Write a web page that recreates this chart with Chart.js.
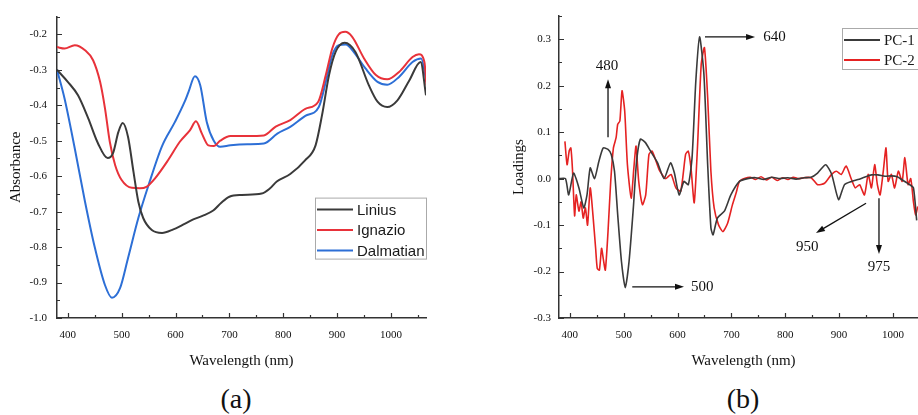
<!DOCTYPE html>
<html>
<head>
<meta charset="utf-8">
<script src="https://cdn.jsdelivr.net/npm/chart.js@4"></script>
<style>
html, body { margin: 0; padding: 0; background: #fff; }
body { width: 918px; height: 415px; overflow: hidden; position: relative; }
.wrap { position: absolute; top: 0; }
.cap { position: absolute; top: 383px; font-family: 'Liberation Serif', serif; font-size: 28px; color: #111; transform: translateX(-50%); }
</style>
</head>
<body>
<div class="wrap" style="left:0"><canvas id="chartA" width="440" height="372"></canvas></div>
<div class="wrap" style="left:495px"><canvas id="chartB" width="450" height="372"></canvas></div>
<div class="cap" style="left:236px">(a)</div>
<div class="cap" style="left:743px">(b)</div>
<script>
// (a) absorbance spectra
const wlLinius = [380,400,419,438,456,474,484,494,502,512,522,531,540,556,575,596,610,633,650,670,685,700,723,760,775,788,813,840,860,872,885,897,914,934,959,975,993,1012,1034,1055,1065]
const absLinius = [-0.30,-0.334,-0.372,-0.437,-0.507,-0.549,-0.535,-0.475,-0.45,-0.49,-0.588,-0.672,-0.718,-0.752,-0.76,-0.75,-0.74,-0.722,-0.712,-0.697,-0.675,-0.658,-0.653,-0.649,-0.635,-0.615,-0.594,-0.556,-0.513,-0.428,-0.315,-0.25,-0.224,-0.25,-0.344,-0.39,-0.405,-0.386,-0.33,-0.278,-0.372]

const wlIgnazio = [380,394,413,432,447,460,469,478,488,500,519,534,546,562,587,608,627,638,649,661,671,683,702,733,764,786,813,841,865,879,891,903,915,928,950,972,993,1015,1040,1052,1062,1066]
const absIgnazio = [-0.236,-0.24,-0.231,-0.245,-0.273,-0.334,-0.408,-0.503,-0.569,-0.611,-0.633,-0.634,-0.63,-0.606,-0.553,-0.503,-0.47,-0.445,-0.48,-0.513,-0.515,-0.50,-0.487,-0.487,-0.485,-0.46,-0.442,-0.41,-0.39,-0.315,-0.24,-0.20,-0.193,-0.207,-0.268,-0.315,-0.327,-0.306,-0.264,-0.256,-0.278,-0.344]

const wlDalmatian = [380,394,413,432,450,469,482,497,512,531,550,575,599,617,624,636,646,658,671,683,702,733,764,789,813,841,866,879,891,903,916,931,953,975,993,1015,1040,1056,1066]
const absDalmatian = [-0.30,-0.381,-0.522,-0.672,-0.80,-0.907,-0.943,-0.916,-0.83,-0.718,-0.625,-0.515,-0.447,-0.39,-0.363,-0.318,-0.344,-0.447,-0.50,-0.517,-0.513,-0.51,-0.508,-0.48,-0.461,-0.43,-0.405,-0.334,-0.259,-0.231,-0.229,-0.25,-0.297,-0.334,-0.342,-0.32,-0.278,-0.268,-0.334]

// (b) PCA loadings
const wlPC1 = [380,392,398,407,417,426,432,438,446,454,462,471,477,483,489,496,503,510,518,524,531,540,550,563,575,587,594,603,612,620,627,634,641,649,656,662,666,674,687,699,715,730,745,760,775,790,805,820,835,848,860,875,886,899,910,923,935,947,960,972,985,997,1008,1016,1031,1038,1044]
const ldPC1 = [0.0,0.0,-0.035,0.012,-0.02,-0.063,-0.035,0.023,0.0,0.037,0.066,0.063,0.052,0.016,-0.078,-0.179,-0.235,-0.179,-0.063,0.037,0.085,0.078,0.059,0.034,0.0,0.034,0.013,-0.035,-0.006,-0.013,0.045,0.21,0.305,0.225,0.03,-0.106,-0.121,-0.085,-0.07,-0.035,-0.006,0.0,0.002,-0.002,0.003,0.0,0.002,-0.001,0.002,0.003,0.012,0.03,0.01,-0.045,-0.013,-0.006,-0.002,0.003,0.008,0.008,0.005,0.006,0.004,-0.002,-0.013,-0.02,-0.09]

const wlPC2 = [391,395,399,402,405,409,412,417,421,425,429,433,438,443,448,451,455,459,462,466,471,476,481,486,489,493,497,502,507,514,519,523,528,535,541,547,553,566,578,588,597,606,615,620,625,631,637,644,650,656,662,668,676,684,693,702,709,715,724,735,745,755,765,775,785,795,805,815,825,835,848,860,873,886,895,904,913,923,930,938,947,954,960,966,971,976,982,987,991,997,1003,1010,1017,1022,1028,1033,1038,1042,1046]
const ldPC2 = [0.08,0.03,0.06,0.066,0.02,-0.08,-0.035,-0.07,-0.05,-0.085,-0.063,-0.1,-0.02,-0.078,-0.15,-0.193,-0.197,-0.15,-0.171,-0.197,-0.114,-0.006,0.066,0.088,0.117,0.124,0.189,0.145,0.03,-0.042,0.023,0.07,-0.006,-0.056,-0.035,0.052,0.059,0.019,0.0,0.009,-0.02,-0.027,0.052,0.059,0.023,-0.052,0.066,0.246,0.282,0.174,0.016,-0.063,-0.099,-0.114,-0.096,-0.056,-0.03,-0.006,0.0,0.003,-0.002,0.004,-0.003,0.003,-0.004,0.002,-0.002,0.003,0.0,0.002,0.002,-0.013,-0.01,0.009,0.016,0.009,0.027,-0.002,-0.02,-0.013,-0.035,0.009,-0.02,0.03,-0.013,-0.035,0.016,0.066,-0.006,0.009,-0.02,0.016,-0.006,0.045,-0.013,0.0,-0.05,-0.078,-0.06]

// ticks
const xTicks = [400,500,600,700,800,900,1000]
const yTicksA = [-1.0,-0.9,-0.8,-0.7,-0.6,-0.5,-0.4,-0.3,-0.2]
const yTicksB = [-0.3,-0.2,-0.1,0.0,0.1,0.2,0.3]

// peak labels in (b): text, text pos, arrow from, arrow to (wavelength, loading)
const peakNotes = [
  {text: '480', at: [469, 0.242], from: [471, 0.089], to: [471, 0.214]},
  {text: '640', at: [780, 0.305], from: [651, 0.305], to: [744, 0.305]},
  {text: '500', at: [646, -0.233], from: [516, -0.233], to: [612, -0.233]},
  {text: '950', at: [841, -0.147], from: [950, -0.053], to: [857, -0.117]},
  {text: '975', at: [974, -0.19], from: [974, -0.042], to: [974, -0.162]}
]

const serif = "'Liberation Serif', 'Times New Roman', serif"
const sans = "'Liberation Sans', Arial, sans-serif"

const pts = (xs, ys) => xs.map((x, i) => ({x: x, y: ys[i]}))

// inward major + minor tick marks on the bottom and left axes
const inwardTicks = {
  id: 'inwardTicks',
  afterDraw(chart, args, opts) {
    const {ctx, chartArea: a, scales: {x, y}} = chart
    ctx.save()
    ctx.strokeStyle = '#333'
    ctx.lineWidth = 1.2
    ctx.beginPath()
    for (let k = Math.ceil(x.min / 50); k * 50 <= x.max; k++) {
      const p = Math.round(x.getPixelForValue(k * 50)) + 0.5
      const len = k % 2 === 0 ? 5 : 3
      ctx.moveTo(p, a.bottom); ctx.lineTo(p, a.bottom - len)
    }
    for (let k = Math.ceil(y.min / 0.05 - 1e-6); k * 0.05 <= y.max + 1e-6; k++) {
      const p = Math.round(y.getPixelForValue(k * 0.05)) + 0.5
      const len = k % 2 === 0 ? 5 : 3
      ctx.moveTo(a.left, p); ctx.lineTo(a.left + len, p)
    }
    ctx.stroke()
    ctx.restore()
  }
}

// framed legend inside the plot
const boxLegend = {
  id: 'boxLegend',
  afterDraw(chart, args, o) {
    const {ctx, chartArea: a} = chart
    const left = a.left + o.dx, top = a.top + o.dy
    ctx.save()
    ctx.fillStyle = '#fff'
    ctx.fillRect(left, top, o.w, o.h)
    ctx.strokeStyle = '#aaa'
    ctx.lineWidth = 1
    ctx.strokeRect(left + 0.5, top + 0.5, o.w, o.h)
    ctx.font = o.font
    ctx.textBaseline = 'middle'
    chart.data.datasets.forEach((ds, i) => {
      const yy = top + o.first + i * o.row
      ctx.strokeStyle = ds.borderColor
      ctx.lineWidth = 2
      ctx.beginPath()
      ctx.moveTo(left + 2, yy); ctx.lineTo(left + 2 + o.sample, yy)
      ctx.stroke()
      ctx.fillStyle = '#1a1a1a'
      ctx.fillText(ds.label, left + o.sample + 6, yy + 1)
    })
    ctx.restore()
  }
}

// arrows with peak wavelengths
const peakArrows = {
  id: 'peakArrows',
  afterDraw(chart, args, o) {
    if (!o.notes) return
    const {ctx, scales: {x, y}} = chart
    ctx.save()
    ctx.strokeStyle = '#111'
    ctx.fillStyle = '#111'
    ctx.lineWidth = 1.3
    ctx.font = '15px ' + serif
    ctx.textAlign = 'center'
    ctx.textBaseline = 'middle'
    o.notes.forEach(n => {
      const x0 = x.getPixelForValue(n.from[0]), y0 = y.getPixelForValue(n.from[1])
      const x1 = x.getPixelForValue(n.to[0]), y1 = y.getPixelForValue(n.to[1])
      const ang = Math.atan2(y1 - y0, x1 - x0)
      ctx.beginPath()
      ctx.moveTo(x0, y0)
      ctx.lineTo(x1 - 6 * Math.cos(ang), y1 - 6 * Math.sin(ang))
      ctx.stroke()
      ctx.beginPath()
      ctx.moveTo(x1, y1)
      ctx.lineTo(x1 - 9 * Math.cos(ang) + 3 * Math.sin(ang), y1 - 9 * Math.sin(ang) - 3 * Math.cos(ang))
      ctx.lineTo(x1 - 9 * Math.cos(ang) - 3 * Math.sin(ang), y1 - 9 * Math.sin(ang) + 3 * Math.cos(ang))
      ctx.closePath()
      ctx.fill()
      ctx.fillText(n.text, x.getPixelForValue(n.at[0]), y.getPixelForValue(n.at[1]))
    })
    ctx.restore()
  }
}

function axes(p) {
  return {
    x: {
      type: 'linear', min: 380, max: 1065,
      afterBuildTicks: s => { s.ticks = xTicks.map(v => ({value: v})) },
      afterFit: s => { s.height = p.xh },
      grid: {display: false, drawTicks: false},
      border: {display: true, color: '#333', width: 1.5},
      ticks: {font: {family: serif, size: 11}, color: '#111', padding: 11, maxRotation: 0, autoSkip: false, callback: v => String(v)},
      title: {display: true, text: 'Wavelength (nm)', font: {family: serif, size: 15}, color: '#111', padding: {top: 0, bottom: 2}}
    },
    y: {
      type: 'linear', min: p.ymin, max: p.ymax,
      afterBuildTicks: s => { s.ticks = p.yticks.map(v => ({value: v})) },
      afterFit: s => { s.width = p.yw },
      grid: {display: false, drawTicks: false},
      border: {display: true, color: '#333', width: 1.5},
      ticks: {font: {family: serif, size: 11}, color: '#111', padding: p.ypad, autoSkip: false, callback: v => (Math.abs(v) < 1e-9 ? 0 : v).toFixed(1)},
      title: {display: true, text: p.ytitle, font: {family: serif, size: 15}, color: '#111', padding: {top: p.ytp, bottom: 0}}
    }
  }
}

function line(label, xs, ys, color, w, smooth) {
  return {
    label: label,
    data: pts(xs, ys),
    borderColor: color,
    borderWidth: w,
    pointRadius: 0,
    fill: false,
    tension: smooth ? 0 : 0.2,
    cubicInterpolationMode: smooth ? 'monotone' : 'default'
  }
}

const chartA = new Chart(document.getElementById('chartA'), {
  type: 'line',
  data: {
    datasets: [
      line('Linius', wlLinius, absLinius, '#3a3a3a', 2, true),
      line('Ignazio', wlIgnazio, absIgnazio, '#e8323a', 2, true),
      line('Dalmatian', wlDalmatian, absDalmatian, '#2d6fd6', 2, true)
    ]
  },
  options: {
    responsive: false,
    animation: false,
    layout: {padding: {top: 16, right: 14, left: 0, bottom: 0}},
    plugins: {
      legend: {display: false},
      tooltip: {enabled: false},
      boxLegend: {dx: 258, dy: 181, w: 111, h: 61, first: 12, row: 20.5, sample: 36, font: '15px ' + sans}
    },
    scales: axes({xh: 54, yw: 57, ymin: -1.0, ymax: -0.15, yticks: yTicksA, ypad: 10, ytitle: 'Absorbance', ytp: 7})
  },
  plugins: [inwardTicks, boxLegend, peakArrows]
})

const chartB = new Chart(document.getElementById('chartB'), {
  type: 'line',
  data: {
    datasets: [
      line('PC-1', wlPC1, ldPC1, '#3a3a3a', 1.6, false),
      line('PC-2', wlPC2, ldPC2, '#e52222', 1.6, false)
    ]
  },
  options: {
    responsive: false,
    animation: false,
    layout: {padding: {top: 16, right: 17, left: 0, bottom: 0}},
    plugins: {
      legend: {display: false},
      tooltip: {enabled: false},
      boxLegend: {dx: 283, dy: 12, w: 84, h: 41, first: 12, row: 20, sample: 36, font: '15px ' + serif},
      peakArrows: {notes: peakNotes}
    },
    scales: axes({xh: 54, yw: 64, ymin: -0.3, ymax: 0.35, yticks: yTicksB, ypad: 8, ytitle: 'Loadings', ytp: 15})
  },
  plugins: [inwardTicks, boxLegend, peakArrows]
})
</script>
</body>
</html>
